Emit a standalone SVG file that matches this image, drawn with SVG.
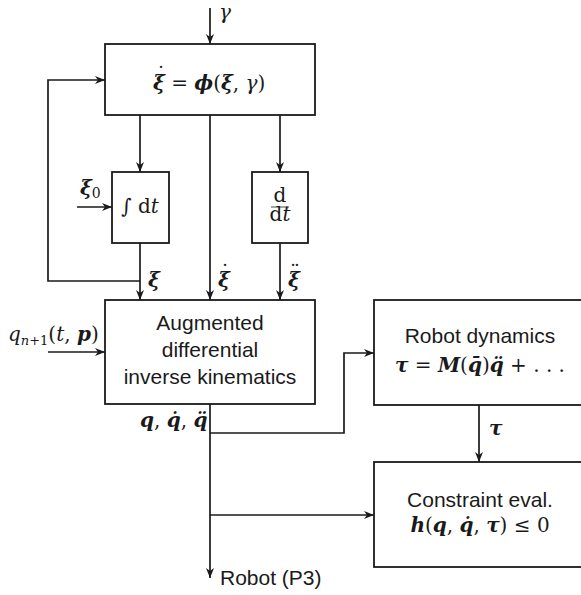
<svg xmlns="http://www.w3.org/2000/svg" width="581" height="595" viewBox="0 0 581 595">
<style>
.box{fill:#fff;stroke:#1a1a1a;stroke-width:1.8}
.ln{fill:none;stroke:#1a1a1a;stroke-width:1.7}
.sans{font-family:"Liberation Sans",Arial,sans-serif;font-size:21px;fill:#1a1a1a}
.m{font-family:"DejaVu Serif","Liberation Serif",serif;font-size:20px;fill:#1a1a1a}
.bi{font-weight:bold;font-style:italic}
.it{font-style:italic}
.dot{font-family:"DejaVu Serif",serif;font-size:20px;fill:#1a1a1a;text-anchor:middle}
</style>
<defs>
<marker id="ah" viewBox="0 0 10 10" refX="10" refY="5" markerWidth="10" markerHeight="10" markerUnits="userSpaceOnUse" orient="auto">
<path d="M0,1 L10,5 L0,9 L3,5 z" fill="#1a1a1a"/>
</marker>
</defs>
<g id="connectors">
<line class="ln" x1="210" y1="8" x2="210" y2="44" marker-end="url(#ah)"/>
<polyline class="ln" points="140,281 48,281 48,80 105,80" marker-end="url(#ah)"/>
<line class="ln" x1="140" y1="115" x2="140" y2="172" marker-end="url(#ah)"/>
<line class="ln" x1="280" y1="115" x2="280" y2="172" marker-end="url(#ah)"/>
<line class="ln" x1="210" y1="115" x2="210" y2="300" marker-end="url(#ah)"/>
<line class="ln" x1="140" y1="243" x2="140" y2="300" marker-end="url(#ah)"/>
<line class="ln" x1="280" y1="243" x2="280" y2="300" marker-end="url(#ah)"/>
<line class="ln" x1="77" y1="207" x2="112" y2="207" marker-end="url(#ah)"/>
<line class="ln" x1="48" y1="352" x2="105" y2="352" marker-end="url(#ah)"/>
<line class="ln" x1="210" y1="404" x2="210" y2="578" marker-end="url(#ah)"/>
<polyline class="ln" points="210,433 344,433 344,353 374,353" marker-end="url(#ah)"/>
<line class="ln" x1="210" y1="515" x2="374" y2="515" marker-end="url(#ah)"/>
<line class="ln" x1="479" y1="405" x2="479" y2="462" marker-end="url(#ah)"/>
<text class="m it" x="219" y="19" font-size="17">γ</text>
<text class="m bi" x="148" y="287">ξ</text>
<text class="m bi" x="218" y="287">ξ</text>
<text class="dot" x="225" y="279">˙</text>
<text class="m bi" x="288" y="287">ξ</text>
<text class="dot" x="295" y="279">¨</text>
<text class="m" x="80" y="195"><tspan class="bi">ξ</tspan><tspan font-size="14" dy="3">0</tspan></text>
<text class="m" x="8" y="341"><tspan class="it">q</tspan><tspan class="it" font-size="13" dy="4">n</tspan><tspan font-size="13">+1</tspan><tspan dy="-4">(</tspan><tspan class="it">t</tspan>, <tspan class="bi">p</tspan>)</text>
<text class="m" x="140" y="427"><tspan class="bi">q</tspan>, <tspan class="bi">q̇</tspan>, <tspan class="bi">q̈</tspan></text>
<text class="m bi" x="489" y="435">τ</text>
<text class="sans" x="220" y="585" font-size="18.5">Robot (P3)</text>
</g>
<g id="phi">
<rect class="box" x="105" y="44" width="210" height="71"/>
<text class="m" x="153" y="90" font-size="21"><tspan class="bi">ξ</tspan> = <tspan class="bi">ϕ</tspan>(<tspan class="bi">ξ</tspan>, <tspan class="it">γ</tspan>)</text>
<text class="dot" x="161" y="81" font-size="21">˙</text>
</g>
<g id="integrator">
<rect class="box" x="112" y="172" width="57" height="71"/>
<text class="m" x="140" y="213" text-anchor="middle" font-size="19"><tspan class="it">∫</tspan> d<tspan class="it">t</tspan></text>
</g>
<g id="derivative">
<rect class="box" x="252" y="172" width="56" height="71"/>
<text class="m" x="280" y="202" text-anchor="middle" font-size="12">d</text>
<line x1="271" y1="207" x2="289" y2="207" stroke="#1a1a1a" stroke-width="0.8"/>
<text class="m" x="280" y="221" text-anchor="middle" font-size="12">d<tspan class="it">t</tspan></text>
</g>
<g id="ik">
<rect class="box" x="105" y="300" width="210" height="104"/>
<text class="sans" x="210" y="330" text-anchor="middle">Augmented</text>
<text class="sans" x="210" y="357" text-anchor="middle">differential</text>
<text class="sans" x="210" y="384" text-anchor="middle">inverse kinematics</text>
</g>
<g id="dynamics">
<rect class="box" x="374" y="300" width="215" height="105"/>
<text class="sans" x="480" y="343" text-anchor="middle">Robot dynamics</text>
<text class="m" x="480" y="372" text-anchor="middle" font-size="21"><tspan class="bi">τ</tspan> = <tspan class="bi">M</tspan>(<tspan class="bi">q̄</tspan>)<tspan class="bi">q̈</tspan> + . . .</text>
</g>
<g id="constraint">
<rect class="box" x="374" y="462" width="215" height="105"/>
<text class="sans" x="480" y="507" text-anchor="middle">Constraint eval.</text>
<text class="m" x="480" y="532" text-anchor="middle" font-size="21"><tspan class="bi">h</tspan>(<tspan class="bi">q</tspan>, <tspan class="bi">q̇</tspan>, <tspan class="bi">τ</tspan>) ≤ 0</text>
</g>
</svg>
